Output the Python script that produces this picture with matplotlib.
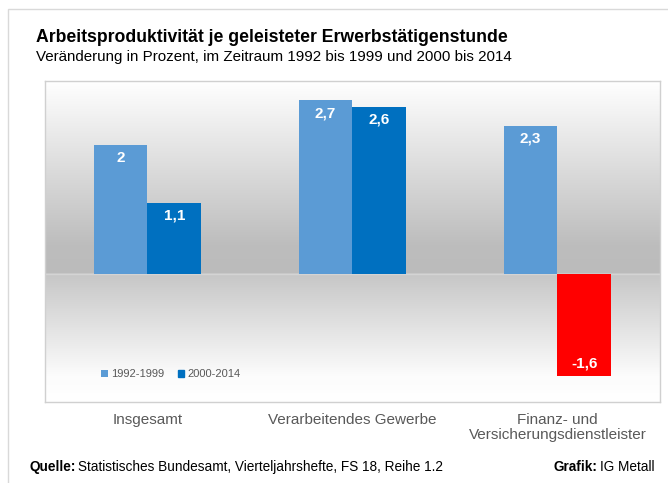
import numpy as np
import matplotlib.pyplot as plt
from matplotlib.colors import LinearSegmentedColormap

plt.rcParams['font.family'] = ['Liberation Sans', 'DejaVu Sans']

# Daten
kategorien = ['Insgesamt', 'Verarbeitendes Gewerbe', 'Finanz- und\nVersicherungsdienstleister']
werte_1992_1999 = [2.0, 2.7, 2.3]
werte_2000_2014 = [1.1, 2.6, -1.6]
labels_1992_1999 = ['2', '2,7', '2,3']
labels_2000_2014 = ['1,1', '2,6', '-1,6']

hell = '#5b9bd5'
dunkel = '#0070c0'
rot = '#ff0000'

W, H = 668, 483
fig = plt.figure(figsize=(W / 100, H / 100), dpi=100)

# Rahmen um die Grafik
rahmen = plt.Rectangle((8 / W, -0.1), 1, 1.1 - 9 / H, transform=fig.transFigure,
                       fill=False, edgecolor='#d9d9d9', linewidth=1)
fig.patches.append(rahmen)

ax = fig.add_axes([45 / W, 1 - 402 / H, 615 / W, 321 / H])
ymin, ymax = -2.0, 3.0
xmin, xmax = -0.5, 2.5
ax.set_xlim(xmin, xmax)
ax.set_ylim(ymin, ymax)

# Hintergrund-Verlauf
oben = LinearSegmentedColormap.from_list('oben', [(0, '#bbbbbb'), (0.15, '#bdbdbd'), (1, '#ffffff')])
unten = LinearSegmentedColormap.from_list('unten', [(0, '#ffffff'), (0.2, '#fcfcfc'), (1, '#c6c6c6')])
grad = np.linspace(0, 1, 256).reshape(-1, 1)
ax.imshow(grad, cmap=oben, extent=[xmin, xmax, 0, ymax], origin='lower', aspect='auto', zorder=0)
ax.imshow(grad, cmap=unten, extent=[xmin, xmax, ymin, 0], origin='lower', aspect='auto', zorder=0)
ax.axhline(0, color='#d4d4d4', linewidth=1, zorder=1)

x = np.arange(len(kategorien))
b = 0.263
farben2 = [dunkel if v >= 0 else rot for v in werte_2000_2014]
bars1 = ax.bar(x - b / 2, werte_1992_1999, b, color=hell, zorder=2, label='1992-1999')
bars2 = ax.bar(x + b / 2, werte_2000_2014, b, color=farben2, zorder=2, label='2000-2014')

for bar, txt in zip(bars1, labels_1992_1999):
    ax.text(bar.get_x() + b / 2, bar.get_height() - 0.2, txt, ha='center', va='center',
            color='white', fontsize=11, fontweight='bold', zorder=3)
for bar, v, txt in zip(bars2, werte_2000_2014, labels_2000_2014):
    y = v - 0.2 if v >= 0 else v + 0.2
    ax.text(bar.get_x() + b / 2, y, txt, ha='center', va='center',
            color='white', fontsize=11, fontweight='bold', zorder=3)

ax.set_xticks(x)
ax.set_xticklabels(kategorien, fontsize=11, color='#595959', linespacing=1.1, va='top')
ax.tick_params(axis='x', length=0, pad=8)
ax.set_yticks([])
for s in ax.spines.values():
    s.set_color('#d0d0d0')
    s.set_linewidth(1)

leg = ax.legend(loc='lower left', bbox_to_anchor=(0.075, 0.04), ncol=2, frameon=False,
                fontsize=8, handlelength=0.6, handleheight=0.6, handletextpad=0.3,
                columnspacing=1.2, labelcolor='#595959')
leg.legend_handles[1].set_color(dunkel)

# Titel
fig.text(36 / W, 1 - 38 / H, 'Arbeitsproduktivität je geleisteter Erwerbstätigenstunde',
         fontsize=12.7, fontweight='bold', va='center', ha='left')
fig.text(36 / W, 1 - 57 / H, 'Veränderung in Prozent, im Zeitraum 1992 bis 1999 und 2000 bis 2014',
         fontsize=10.9, va='center', ha='left')

# Quelle
q = fig.text(29 / W, 1 - 467 / H, 'Quelle:', fontsize=9.8, fontweight='bold', va='center', ha='left')
g = fig.text(553 / W, 1 - 467 / H, 'Grafik:', fontsize=9.8, fontweight='bold', va='center', ha='left')
fig.canvas.draw()
bq = q.get_window_extent()
bg = g.get_window_extent()
fig.text((bq.x1 + 3) / W, 1 - 467 / H, 'Statistisches Bundesamt, Vierteljahrshefte, FS 18, Reihe 1.2',
         fontsize=9.8, va='center', ha='left')
fig.text((bg.x1 + 3) / W, 1 - 467 / H, 'IG Metall', fontsize=9.8, va='center', ha='left')

fig.savefig('out.png', dpi=100)
